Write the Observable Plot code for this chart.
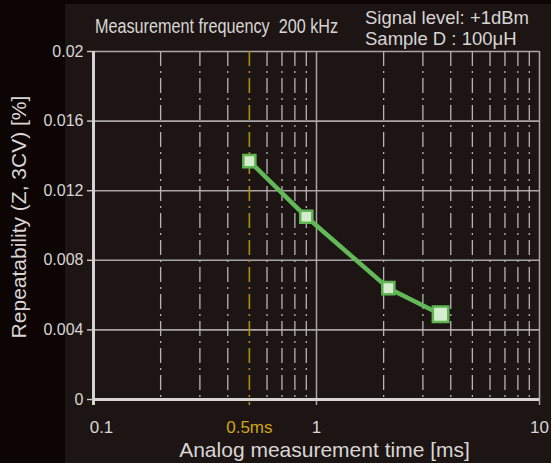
<!DOCTYPE html>
<html>
<head>
<meta charset="utf-8">
<script src="https://cdn.jsdelivr.net/npm/d3@7"></script>
<script src="https://cdn.jsdelivr.net/npm/@observablehq/plot@0.6"></script>
<style>
  html, body { margin: 0; padding: 0; background: #0d0404; }
  #wrap { position: relative; width: 551px; height: 463px; overflow: hidden; background: #0d0404; }
  #panel { position: absolute; left: 65px; top: 4px; width: 486px; height: 459px; background: #1c1514; }
  #chart { position: absolute; left: 0; top: 0; }
  .t { position: absolute; color: #d9d5d4; font-family: "Liberation Sans", Arial, sans-serif; white-space: nowrap; line-height: 1; }
</style>
</head>
<body>
<div id="wrap">
  <div id="panel"></div>
  <div id="chart"></div>
  <div class="t" id="freq" style="left:95px; top:16px; font-size:20px; transform:scaleX(0.81); transform-origin:0 0;">Measurement frequency&nbsp;&nbsp;200 kHz</div>
  <div class="t" style="left:365px; top:8.5px; font-size:18.5px;">Signal level: +1dBm</div>
  <div class="t" style="left:365px; top:30px; font-size:18.5px;">Sample D : 100μH</div>
  <div class="t" id="xtitle" style="left:324.5px; top:439px; font-size:21px; transform:translateX(-50%);">Analog measurement time [ms]</div>
  <div class="t" id="ytitle" style="left:17.5px; top:217px; font-size:21px; transform:translate(-50%,-50%) rotate(-90deg);">Repeatability (Z, 3CV) [%]</div>
</div>
<script>
// ---- data ----
const xTicks = [0.1, 1, 10];
const xTickLabels = ["0.1", "1", "10"];
const minorTicks = [0.2, 0.3, 0.4, 0.5, 0.6, 0.7, 0.8, 0.9, 2, 3, 4, 5, 6, 7, 8, 9];
const highlightTime = 0.5;
const highlightLabel = "0.5ms";
const yTicks = [0, 0.004, 0.008, 0.012, 0.016, 0.02];
const yTickLabels = ["0", "0.004", "0.008", "0.012", "0.016", "0.02"];
const times = [0.5, 0.9, 2.1, 3.6];              // ms
const repeatability = [0.0137, 0.0105, 0.0064, 0.0049]; // %

const data = times.map((t, i) => ({time: t, value: repeatability[i]}));
const xLabelRows = xTicks.map((t, i) => ({time: t, label: xTickLabels[i], first: i === 0}));
const gridColor = "#aaa6a5";
const dash = "15,5,2,5";

const chart = Plot.plot({
  width: 551,
  height: 463,
  marginLeft: 93,
  marginRight: 12,
  marginTop: 51,
  marginBottom: 64,
  x: {type: "log", domain: [0.1, 10], axis: null},
  y: {domain: [0, 0.02], axis: null},
  style: {background: "transparent", color: "#d9d5d4", fontFamily: "'Liberation Sans', Arial, sans-serif", fontSize: "16px"},
  marks: [
    Plot.ruleY(yTicks.filter(d => d > 0 && d < 0.02), {stroke: gridColor, strokeWidth: 1.6}),
    Plot.ruleX(minorTicks.filter(d => d !== highlightTime), {stroke: "#b8b4b3", strokeWidth: 1.3, strokeDasharray: dash}),
    Plot.ruleX([1], {stroke: gridColor, strokeWidth: 1.5, insetBottom: -6}),
    Plot.ruleX([10], {stroke: gridColor, strokeWidth: 1.5, insetBottom: -6}),
    Plot.ruleY([0.02], {stroke: gridColor, strokeWidth: 1.6}),
    Plot.ruleX([highlightTime], {stroke: "#b08e10", strokeWidth: 1.6, strokeDasharray: dash, insetBottom: -6}),
    Plot.ruleY([0], {stroke: "#d6d4d2", strokeWidth: 3}),
    Plot.ruleX([0.1], {stroke: "#d6d4d2", strokeWidth: 3, insetBottom: -6}),
    Plot.axisY(yTicks, {tickFormat: (d, i) => yTickLabels[i], tickSize: 6, tickPadding: 4, stroke: "#cfcdcb", strokeWidth: 1.4, fill: "#d9d5d4", fontSize: 16, label: null}),
    Plot.text(xLabelRows.filter(d => d.first), {x: "time", text: "label", frameAnchor: "bottom", lineAnchor: "top", dy: 21, dx: 8, fill: "#d9d5d4", fontSize: 17}),
    Plot.text(xLabelRows.filter(d => !d.first), {x: "time", text: "label", frameAnchor: "bottom", lineAnchor: "top", dy: 21, fill: "#d9d5d4", fontSize: 17}),
    Plot.text([highlightTime], {x: d => d, text: () => highlightLabel, frameAnchor: "bottom", lineAnchor: "top", dy: 21, fill: "#d2a60e", fontSize: 17}),
    Plot.line(data, {x: "time", y: "value", stroke: "#63b857", strokeWidth: 4.5}),
    Plot.dot(data.slice(0, -1), {x: "time", y: "value", symbol: "square", r: 6.8, fill: "#d6ecce", stroke: "#5fb552", strokeWidth: 2.5}),
    Plot.dot(data.slice(-1), {x: "time", y: "value", symbol: "square", r: 8.7, fill: "#d6ecce", stroke: "#5fb552", strokeWidth: 2.5})
  ]
});
document.getElementById("chart").appendChild(chart);
</script>
</body>
</html>
